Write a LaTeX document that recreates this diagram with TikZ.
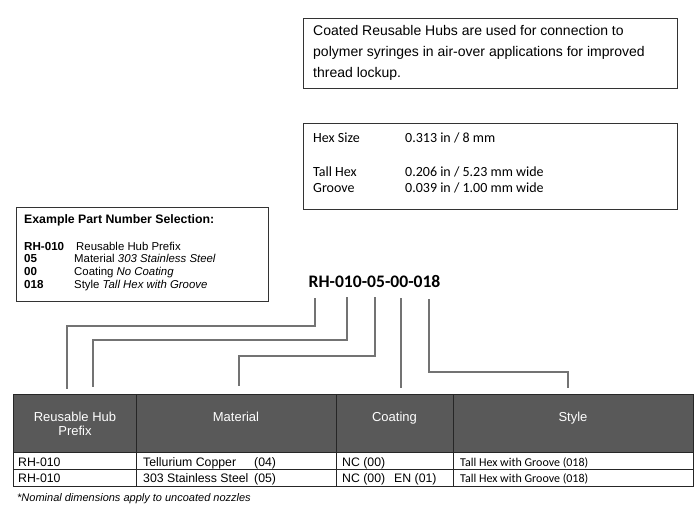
\documentclass[tikz,border=0pt]{standalone}
\usepackage{fontspec}
\setmainfont{Liberation Sans}
\newfontfamily\calibri{Carlito}
\begin{document}
\begin{tikzpicture}[x=1pt,y=-1pt,
  note/.style={draw=black!80,line width=0.9pt,anchor=north west,inner sep=0pt},
  txt/.style={anchor=base west,inner sep=0pt},
  lead/.style={draw=black!55,line width=1.1pt},
  hcell/.style={draw=black!85,fill=black!65,line width=1pt,anchor=north west,inner sep=0pt,minimum height=58pt},
  dcell/.style={draw=black!85,line width=1pt,anchor=north west,inner sep=0pt,minimum height=17pt},
  htxt/.style={anchor=base,inner sep=0pt,text=white,font=\fontsize{13}{15}\selectfont}]
\useasboundingbox (0,0) rectangle (700,531);
% note boxes
\node[note,minimum width=374pt,minimum height=70pt] (intro) at (303,18) {};
\node[note,minimum width=374pt,minimum height=86pt] (dims) at (303,123) {};
\node[note,minimum width=252pt,minimum height=94pt] (example) at (16,207) {};
\begin{scope}[every node/.style={txt,font=\fontsize{14}{16}\selectfont}]
  \node (intro1) at (313,35) {Coated Reusable Hubs are used for connection to};
  \node (intro2) at (313,56) {polymer syringes in air-over applications for improved};
  \node (intro3) at (313,77) {thread lockup.};
\end{scope}
\begin{scope}[every node/.style={txt,font=\calibri\fontsize{14}{16}\selectfont}]
  \node (hexl) at (313,142) {Hex Size};
  \node (hexv) at (405,142) {0.313 in / 8 mm};
  \node (talll) at (313,176) {Tall Hex};
  \node (tallv) at (405,176) {0.206 in / 5.23 mm wide};
  \node (groovel) at (313,192) {Groove};
  \node (groovev) at (405,192) {0.039 in / 1.00 mm wide};
\end{scope}
\node[txt,font=\bfseries\fontsize{12.3}{14}\selectfont] (extitle) at (24,223) {Example Part Number Selection:};
\begin{scope}[every node/.style={txt,font=\fontsize{11.4}{13}\selectfont}]
  \node[font=\bfseries\fontsize{11.6}{13}\selectfont] (ex1) at (24,250) {RH-010};
  \node[font=\bfseries\fontsize{11.6}{13}\selectfont] (ex2) at (24,262.7) {05};
  \node[font=\bfseries\fontsize{11.6}{13}\selectfont] (ex3) at (24,275.4) {00};
  \node[font=\bfseries\fontsize{11.6}{13}\selectfont] (ex4) at (24,288) {018};
  \node (exd1) at (76,250) {Reusable Hub Prefix};
  \node (exd2) at (74,262.7) {Material \textit{303 Stainless Steel}};
  \node (exd3) at (74,275.4) {Coating \textit{No Coating}};
  \node (exd4) at (74,288) {Style \textit{Tall Hex with Groove}};
\end{scope}
\node[anchor=base,inner sep=0pt,font=\calibri\bfseries\fontsize{17.6}{20}\selectfont] (partno) at (374.5,287.5) {RH-010-05-00-018};
% table
\begin{scope}[every node/.style={hcell}]
  \node[minimum width=123pt] (hprefix) at (13,394) {};
  \node[minimum width=200pt] (hmat) at (136,394) {};
  \node[minimum width=117pt] (hcoat) at (336,394) {};
  \node[minimum width=240pt] (hstyle) at (453,394) {};
\end{scope}
\begin{scope}[every node/.style={dcell}]
  \node[minimum width=123pt] (apre) at (13,452) {};
  \node[minimum width=200pt] (amat) at (136,452) {};
  \node[minimum width=117pt] (acoat) at (336,452) {};
  \node[minimum width=240pt] (astyle) at (453,452) {};
  \node[minimum width=123pt] (bpre) at (13,469) {};
  \node[minimum width=200pt] (bmat) at (136,469) {};
  \node[minimum width=117pt] (bcoat) at (336,469) {};
  \node[minimum width=240pt] (bstyle) at (453,469) {};
\end{scope}
\node[htxt] (tprefix1) at (75,421.5) {Reusable Hub};
\node[htxt] (tprefix2) at (75,435.5) {Prefix};
\node[htxt] (tmat) at (236,421.5) {Material};
\node[htxt] (tcoat) at (394.5,421.5) {Coating};
\node[htxt] (tstyle) at (573,421.5) {Style};
\begin{scope}[every node/.style={txt,font=\fontsize{12.3}{14}\selectfont}]
  \node (apretxt) at (18,466) {RH-010};
  \node (amattxt) at (143,466) {Tellurium Copper};
  \node (amatno) at (254,466) {(04)};
  \node (acoattxt) at (342,466) {NC (00)};
  \node (bpretxt) at (18,482) {RH-010};
  \node (bmattxt) at (143,482) {303 Stainless Steel};
  \node (bmatno) at (254,482) {(05)};
  \node (bcoattxt) at (342,482) {NC (00)};
  \node (bcoaten) at (394,482) {EN (01)};
\end{scope}
\node[txt,font=\calibri\fontsize{12}{14}\selectfont] (astyletxt) at (460,466) {Tall Hex with Groove (018)};
\node[txt,font=\calibri\fontsize{12}{14}\selectfont] (bstyletxt) at (460,482) {Tall Hex with Groove (018)};
\node[txt,font=\itshape\fontsize{11}{13}\selectfont] (foot) at (17,501) {*Nominal dimensions apply to uncoated nozzles};
% leader lines
\coordinate (p1) at (315,298);
\coordinate (p2) at (347,297);
\coordinate (p3) at (375,297);
\coordinate (p4) at (401,298);
\coordinate (p5) at (429,299);
\coordinate (t1) at (67,389);
\coordinate (t2) at (93,387);
\coordinate (t3) at (239,386);
\coordinate (t4) at (401,388);
\coordinate (t5) at (568,388);
\draw[lead] (p1) -- ++(0,28) -| (t1);
\draw[lead] (p2) -- ++(0,43) -| (t2);
\draw[lead] (p3) -- ++(0,59) -| (t3);
\draw[lead] (p4) -- (t4);
\draw[lead] (p5) -- ++(0,73) -| (t5);
\end{tikzpicture}
\end{document}
